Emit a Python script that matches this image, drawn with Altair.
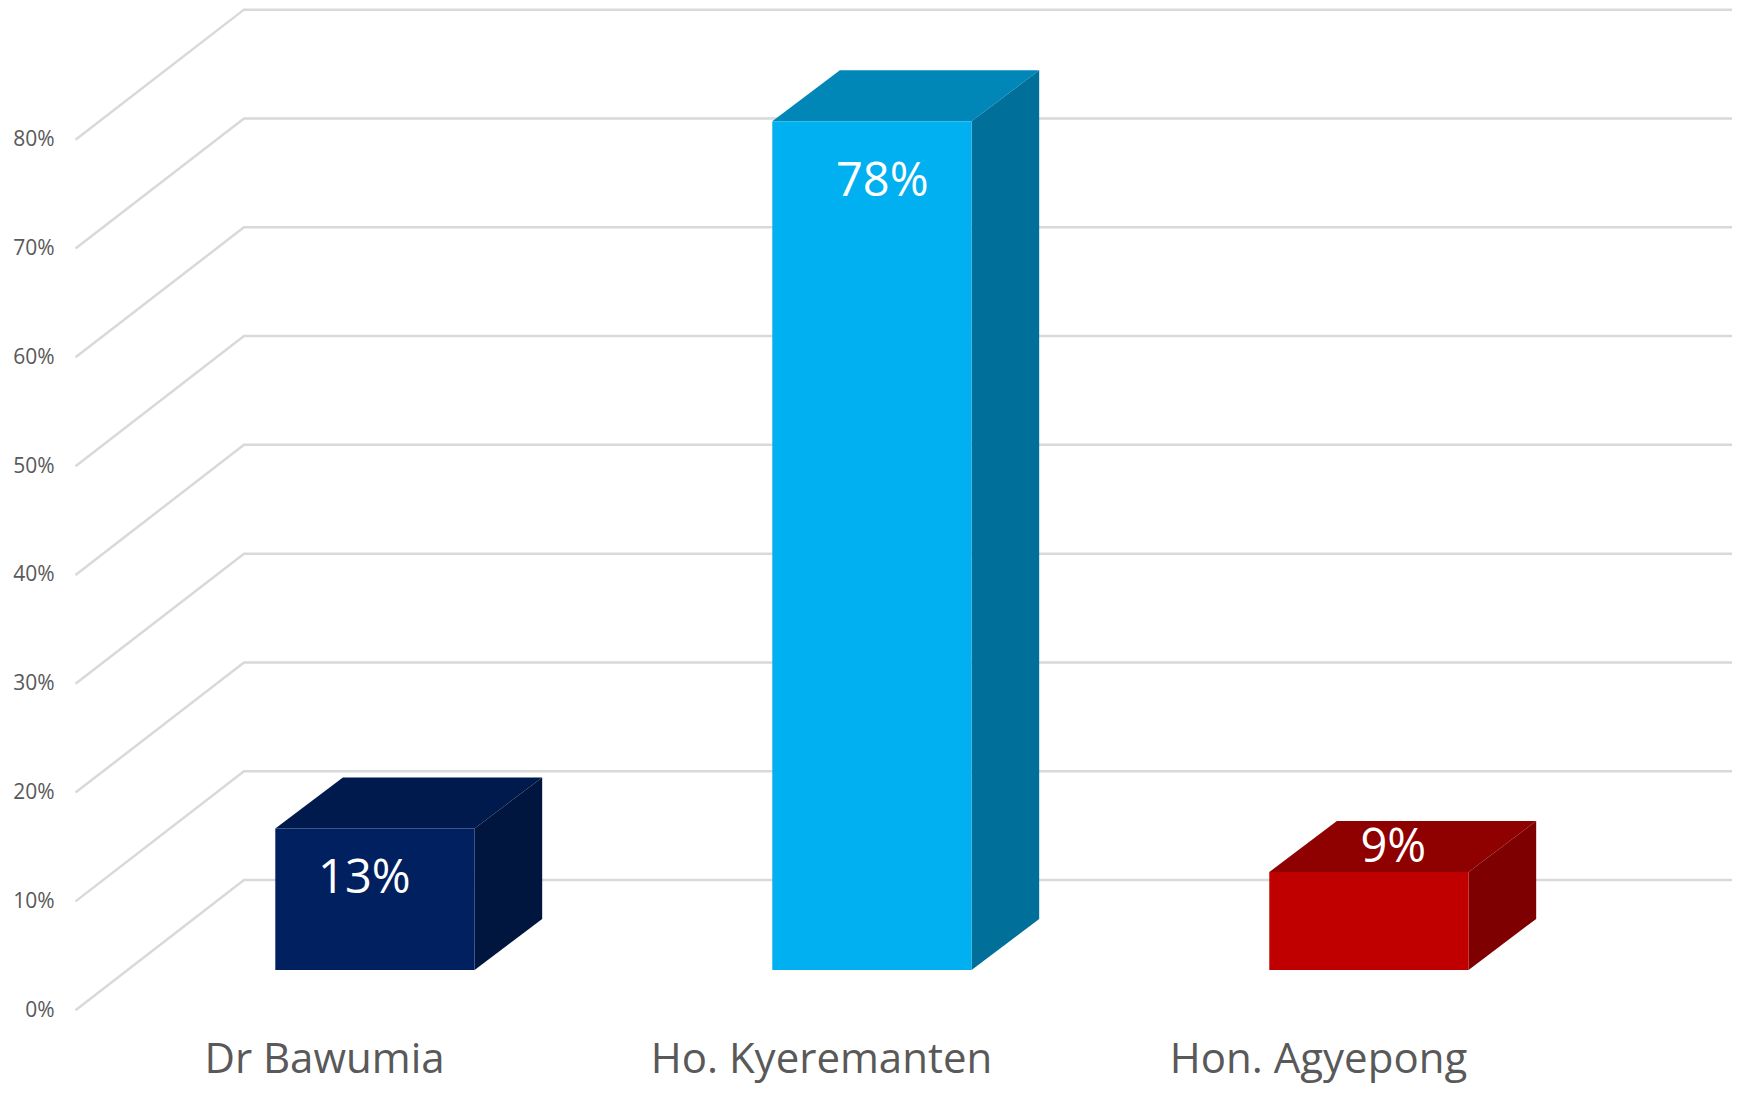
import altair as alt
import pandas as pd

categories = ["Dr Bawumia", "Ho. Kyeremanten", "Hon. Agyepong"]
values = [13, 78, 9]
front_colors = ["#002060", "#00B0F0", "#C00000"]
top_colors = ["#001A4D", "#0087B8", "#8F0000"]
side_colors = ["#00163F", "#006F9A", "#7F0000"]
grid_ticks = [0, 10, 20, 30, 40, 50, 60, 70, 80]

# pixel offsets of the value labels from each bar's top-left front corner
label_offsets = [(89, 51), (110, 61), (124, -24)]

# perspective geometry, in scale units (slots on x, percent on y)
WALL_DX, WALL_DY = 0.339, 11.96
BAR_LEFT, BAR_W = 0.402, 0.401
BAR_DX, BAR_DY = 0.136, 4.69
BASE = 3.7

grid_rows = []
for t in grid_ticks:
    grid_rows += [
        dict(t=t, x=0.0, y=float(t)),
        dict(t=t, x=WALL_DX, y=t + WALL_DY),
        dict(t=t, x=WALL_DX + 3, y=t + WALL_DY),
    ]
grid = pd.DataFrame(grid_rows)

fronts, areas = [], []
for i, (c, v) in enumerate(zip(categories, values)):
    x0 = i + BAR_LEFT
    x1 = x0 + BAR_W
    top = BASE + v
    fronts.append(dict(name=c, x=x0, x2=x1, y=BASE, y2=top, color=front_colors[i]))
    for x, lo, hi in [
        (x0, top, top),
        (x0 + BAR_DX, top, top + BAR_DY),
        (x1, top, top + BAR_DY),
        (x1 + BAR_DX, top + BAR_DY, top + BAR_DY),
    ]:
        areas.append(dict(face=f"top{i}", x=x, y=lo, y2=hi, color=top_colors[i]))
    for x, lo, hi in [(x1, BASE, top), (x1 + BAR_DX, BASE + BAR_DY, top + BAR_DY)]:
        areas.append(dict(face=f"side{i}", x=x, y=lo, y2=hi, color=side_colors[i]))
fronts = pd.DataFrame(fronts)
areas = pd.DataFrame(areas)

x_scale = alt.Scale(domain=[-0.0312, 3.333], nice=False, zero=False)
y_scale = alt.Scale(domain=[-0.903, 92.11], nice=False, zero=False)

label_expr = "{0.5:'%s',1.5:'%s',2.5:'%s'}[datum.value]" % tuple(categories)

x_enc = alt.X(
    "x:Q",
    scale=x_scale,
    axis=alt.Axis(
        values=[0.5, 1.5, 2.5],
        labelExpr=label_expr,
        title=None,
        domain=False,
        ticks=False,
        grid=False,
        labelFont="Open Sans",
        labelFontSize=42,
        labelColor="#595959",
        labelPadding=19,
        labelLimit=1000,
        labelOverlap=False,
        labelFlush=False,
    ),
)
y_enc = alt.Y(
    "y:Q",
    scale=y_scale,
    axis=alt.Axis(
        values=grid_ticks,
        labelExpr="datum.value + '%'",
        title=None,
        domain=False,
        ticks=False,
        grid=False,
        labelFont="Open Sans",
        labelFontSize=21,
        labelColor="#595959",
        labelPadding=6,
    ),
)

grid_layer = (
    alt.Chart(grid)
    .mark_line(color="#D9D9D9", strokeWidth=2.5)
    .encode(x=x_enc, y=y_enc, detail="t:N", order="x:Q")
)

area_layer = (
    alt.Chart(areas)
    .mark_area(opacity=1)
    .encode(
        x=alt.X("x:Q"),
        y=alt.Y("y:Q"),
        y2="y2:Q",
        detail="face:N",
        color=alt.Color("color:N", scale=None),
    )
)

front_layer = (
    alt.Chart(fronts)
    .mark_rect()
    .encode(
        x=alt.X("x:Q"),
        x2="x2:Q",
        y=alt.Y("y:Q"),
        y2="y2:Q",
        color=alt.Color("color:N", scale=None),
    )
)

text_layers = []
for i, (dx, dy) in enumerate(label_offsets):
    row = pd.DataFrame([dict(
        x=i + BAR_LEFT, y=BASE + values[i], label=f"{values[i]}%"
    )])
    text_layers.append(
        alt.Chart(row)
        .mark_text(
            font="Open Sans", fontSize=47, color="white",
            align="center", baseline="middle", dx=dx, dy=dy,
        )
        .encode(x=alt.X("x:Q"), y=alt.Y("y:Q"), text="label:N")
    )

chart = (
    alt.layer(grid_layer, area_layer, front_layer, *text_layers)
    .properties(
        width=1672,
        height=1012,
        padding={"left": 52, "top": 0, "right": 0, "bottom": 65},
        autosize=alt.AutoSizeParams(type="none"),
        background="white",
    )
    .configure_view(stroke=None)
)

chart.save("out.html", embed_options={"renderer": "svg", "actions": False})
